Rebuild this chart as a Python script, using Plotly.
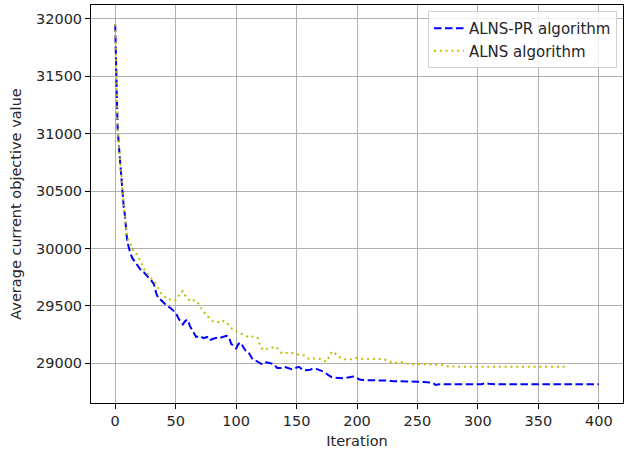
import plotly.graph_objects as go

# ALNS-PR algorithm: average current objective value by iteration
pr_iter = [0, 1, 2, 3, 4, 5, 6, 7, 8, 9, 10, 12, 14, 16, 18, 20, 22, 24, 26, 28,
           30, 32, 34, 36, 38, 40, 43, 46, 50, 53, 56, 58, 60, 62, 65, 67, 70, 73,
           76, 78, 80, 83, 86, 89, 92, 94, 96, 98, 100, 102, 104, 106, 108, 110,
           112, 114, 117, 120, 122, 125, 128, 131, 134, 137, 140, 143, 146, 149,
           152, 155, 158, 161, 164, 167, 170, 173, 176, 179, 182, 185, 188, 191,
           194, 197, 199, 202, 205, 210, 215, 220, 225, 230, 235, 240, 245, 250,
           255, 260, 263, 265, 268, 272, 280, 290, 298, 303, 306, 309, 315, 330,
           350, 370, 400]
pr_value = [31950, 31450, 31050, 30900, 30760, 30620, 30470, 30370, 30290, 30180,
            30060, 29980, 29920, 29890, 29860, 29830, 29800, 29790, 29760, 29740,
            29720, 29690, 29610, 29560, 29550, 29530, 29500, 29480, 29440, 29380,
            29340, 29370, 29380, 29320, 29270, 29230, 29240, 29220, 29230, 29200,
            29210, 29220, 29220, 29230, 29240, 29230, 29170, 29150, 29130, 29170,
            29180, 29140, 29110, 29100, 29060, 29030, 29020, 29000, 28990, 29010,
            29005, 28995, 28960, 28960, 28970, 28960, 28950, 28960, 28970, 28945,
            28940, 28945, 28955, 28950, 28935, 28925, 28900, 28880, 28875, 28870,
            28870, 28875, 28880, 28885, 28880, 28860, 28855, 28855, 28855, 28855,
            28850, 28845, 28845, 28845, 28840, 28840, 28838, 28832, 28830, 28812,
            28818, 28818, 28818, 28818, 28815, 28818, 28828, 28822, 28818, 28818,
            28818, 28818, 28818]

# ALNS algorithm: average current objective value by iteration
alns_iter = [0, 1, 2, 3, 4, 5, 6, 7, 8, 9, 10, 12, 14, 16, 18, 20, 22, 24, 26, 28,
             30, 32, 34, 36, 38, 40, 42, 44, 46, 48, 50, 52, 54, 56, 58, 60, 62,
             64, 66, 68, 70, 72, 75, 78, 80, 83, 86, 88, 90, 92, 94, 96, 98, 100,
             103, 106, 108, 111, 114, 116, 118, 120, 122, 124, 126, 129, 131, 133,
             136, 138, 141, 145, 148, 152, 156, 160, 164, 168, 172, 175, 177, 179,
             181, 184, 187, 190, 193, 196, 200, 204, 208, 212, 216, 220, 224, 228,
             231, 234, 238, 241, 245, 250, 256, 262, 268, 272, 276, 280, 300, 320,
             340, 360, 372]
alns_value = [31950, 31450, 31060, 30910, 30770, 30630, 30480, 30380, 30300, 30190,
              30090, 30060, 30000, 29960, 29950, 29910, 29860, 29820, 29790, 29760,
              29740, 29720, 29680, 29650, 29610, 29590, 29570, 29570, 29550, 29545,
              29550, 29580, 29620, 29630, 29590, 29570, 29540, 29550, 29550, 29530,
              29510, 29460, 29430, 29390, 29370, 29360, 29360, 29375, 29370, 29360,
              29330, 29310, 29290, 29280, 29265, 29250, 29235, 29225, 29235, 29235,
              29220, 29150, 29120, 29115, 29130, 29140, 29140, 29145, 29110, 29085,
              29090, 29090, 29090, 29075, 29070, 29040, 29045, 29045, 29025, 29015,
              29060, 29100, 29100, 29060, 29050, 29035, 29030, 29040, 29048, 29040,
              29035, 29038, 29038, 29038, 29030, 29010, 29000, 29010, 29012, 29000,
              28992, 28995, 28992, 28992, 28992, 28985, 28972, 28971, 28971, 28971,
              28971, 28971, 28971]

x_ticks = [0, 50, 100, 150, 200, 250, 300, 350, 400]
y_ticks = [29000, 29500, 30000, 30500, 31000, 31500, 32000]

FONT = "DejaVu Sans"
TEXT = "#262626"
SIZE = 14.5

fig = go.Figure()
fig.add_trace(go.Scatter(
    x=pr_iter, y=pr_value, mode="lines", name="ALNS-PR algorithm",
    line=dict(color="#0000ff", width=2, dash="7.5px,3.5px"),
))
fig.add_trace(go.Scatter(
    x=alns_iter, y=alns_value, mode="lines", name="ALNS algorithm",
    line=dict(color="#bfbf00", width=2, dash="2px,3.8px"),
))

axis_common = dict(
    showgrid=True, gridcolor="#b0b0b0", gridwidth=1,
    showline=True, linecolor="#000000", linewidth=1, mirror=True,
    ticks="outside", ticklen=5, tickwidth=1, tickcolor="#000000",
    tickfont=dict(family=FONT, size=SIZE, color=TEXT),
    zeroline=False,
)

fig.update_xaxes(
    range=[-20, 420], tickvals=x_ticks, ticktext=[str(v) for v in x_ticks],
    title=dict(text="Iteration", font=dict(family=FONT, size=SIZE, color=TEXT),
               standoff=7),
    **axis_common,
)
fig.update_yaxes(
    range=[28655, 32120], tickvals=y_ticks, ticktext=[str(v) for v in y_ticks],
    title=dict(text="Average current objective value",
               font=dict(family=FONT, size=SIZE, color=TEXT), standoff=10),
    **axis_common,
)

fig.update_layout(
    width=627, height=453,
    margin=dict(l=91, r=4, t=5, b=50),
    paper_bgcolor="white", plot_bgcolor="white",
    font=dict(family=FONT, size=SIZE, color=TEXT),
    legend=dict(
        x=0.9887, y=0.985, xanchor="right", yanchor="top",
        bgcolor="rgba(255,255,255,0.8)", bordercolor="#d0d0d0", borderwidth=1,
        font=dict(family=FONT, size=15, color=TEXT),
        tracegroupgap=0, itemwidth=30,
    ),
    showlegend=True,
)

fig.write_html("out.html")
